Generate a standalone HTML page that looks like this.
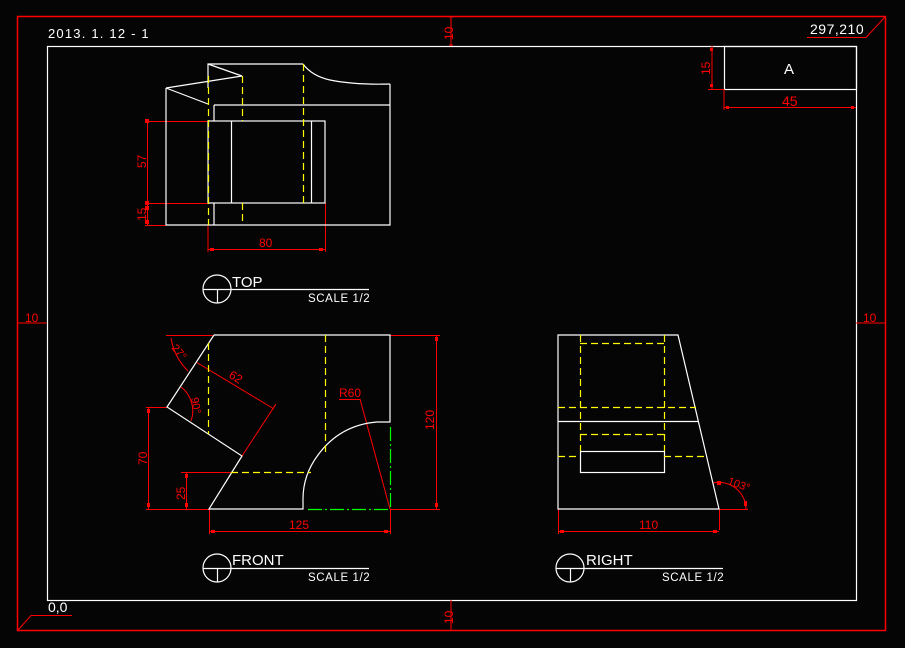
<!DOCTYPE html>
<html><head><meta charset="utf-8"><style>
html,body{margin:0;padding:0;background:#000;}
svg{display:block;}
text{font-family:"Liberation Sans","DejaVu Sans",sans-serif;}
</style></head><body>
<svg width="905" height="648" viewBox="0 0 905 648" xmlns="http://www.w3.org/2000/svg">
<rect width="905" height="648" fill="#050505"/>
<g fill="none" stroke-width="1.2">
<rect x="17.5" y="16.5" width="868" height="614" stroke="#f00" stroke-width="1.5"/>
<rect x="47.5" y="46.5" width="809" height="554" stroke="#fff"/>
<rect x="724.5" y="46.5" width="132" height="43" stroke="#fff"/>
</g>
<g stroke="#f00" stroke-width="1" fill="none">
<line x1="451" y1="16" x2="451" y2="46"/><line x1="449" y1="17" x2="453" y2="17"/><line x1="449" y1="45" x2="453" y2="45"/>
<line x1="451" y1="600" x2="451" y2="630"/>
<line x1="17" y1="323" x2="47" y2="323"/><line x1="856" y1="323" x2="885" y2="323"/>
<line x1="807" y1="37.5" x2="866" y2="37.5"/><line x1="866" y1="37.5" x2="885" y2="17"/>
<line x1="31" y1="615.5" x2="72" y2="615.5"/><line x1="31" y1="615.5" x2="18" y2="630"/>
<line x1="712" y1="46" x2="712" y2="89"/><line x1="708" y1="89.5" x2="724" y2="89.5"/>
<line x1="724" y1="107.5" x2="856" y2="107.5"/><line x1="724" y1="89" x2="724" y2="110"/>
<line x1="147.5" y1="121" x2="147.5" y2="225"/>
<line x1="145" y1="121.5" x2="208" y2="121.5"/>
<line x1="145" y1="203.5" x2="208" y2="203.5"/>
<line x1="145" y1="225.5" x2="166" y2="225.5"/>
<line x1="208" y1="225" x2="208" y2="252"/>
<line x1="325.5" y1="203" x2="325.5" y2="252"/>
<line x1="208" y1="249.5" x2="325" y2="249.5"/>
<line x1="166" y1="335.5" x2="214" y2="335.5"/>
<line x1="390" y1="335.5" x2="440" y2="335.5"/>
<line x1="436.5" y1="335" x2="436.5" y2="509"/>
<line x1="390" y1="509.5" x2="440" y2="509.5"/>
<line x1="146" y1="407.5" x2="167" y2="407.5"/>
<line x1="148.5" y1="407" x2="148.5" y2="509"/>
<line x1="146" y1="509.5" x2="209" y2="509.5"/>
<line x1="181" y1="472.5" x2="232" y2="472.5"/>
<line x1="186.5" y1="472" x2="186.5" y2="509"/>
<line x1="209.5" y1="509" x2="209.5" y2="534"/>
<line x1="390.5" y1="509" x2="390.5" y2="534"/>
<line x1="209" y1="531.5" x2="390" y2="531.5"/>
<line x1="196" y1="362" x2="274" y2="409"/>
<line x1="276" y1="404" x2="242" y2="456"/>
<line x1="339" y1="399.5" x2="360" y2="399.5"/>
<line x1="360" y1="399" x2="390" y2="509"/>
<path d="M171 338 A60 60 0 0 0 188 371"/>
<path d="M181 387 A30 30 0 0 1 191 421"/>
<line x1="558.5" y1="509" x2="558.5" y2="534"/>
<line x1="719.5" y1="509" x2="719.5" y2="530"/>
<line x1="558" y1="531.5" x2="719" y2="531.5"/>
<line x1="719" y1="509.5" x2="748" y2="509.5"/>
<path d="M713 483 A27 27 0 0 1 746 509"/>
</g>
<g fill="#f00">
<rect x="145" y="119" width="4" height="4"/><rect x="145" y="201" width="4" height="4"/><rect x="145" y="206" width="4" height="4"/><rect x="145" y="220" width="4" height="4"/>
<rect x="210" y="248" width="4" height="3"/><rect x="319" y="248" width="4" height="3"/>
<rect x="435" y="337" width="3" height="4"/><rect x="435" y="503" width="3" height="4"/>
<rect x="147" y="409" width="3" height="4"/><rect x="147" y="503" width="3" height="4"/>
<rect x="185" y="474" width="3" height="4"/><rect x="185" y="503" width="3" height="4"/>
<rect x="211" y="530" width="4" height="3"/><rect x="384" y="530" width="4" height="3"/>
<rect x="560" y="530" width="4" height="3"/><rect x="713" y="530" width="4" height="3"/>
<rect x="717" y="481" width="4" height="4"/><rect x="744" y="501" width="3" height="5"/>
<rect x="710" y="48" width="3" height="3"/><rect x="710" y="84" width="3" height="3"/>
<rect x="726" y="106" width="3" height="3"/><rect x="851" y="106" width="3" height="3"/>
</g>
<g fill="none" stroke="#fff" stroke-width="1.2">
<path d="M166 88 V225 H390 V84"/>
<path d="M208 88 V64 H303"/>
<path d="M303 64 Q312 76 330 80 Q355 85 390 84"/>
<path d="M208 64 L242 76"/>
<path d="M166 88 L242 76"/>
<path d="M166 88 L208 104"/>
<path d="M214 105 H390"/><path d="M214 105 V121"/><path d="M214 203 V225"/>
<rect x="208" y="121" width="117" height="82"/>
<line x1="231.5" y1="121" x2="231.5" y2="203"/>
<line x1="311.5" y1="121" x2="311.5" y2="203"/>
<circle cx="217" cy="289" r="14"/>
<line x1="203" y1="289.5" x2="369" y2="289.5"/><line x1="217.5" y1="289" x2="217.5" y2="303"/>
<path d="M214 335 H390 V422 H377 Q340 425 318 455 Q303 475 303 499 V509 H209 L242 456 L167 407 L214 335"/>
<circle cx="217" cy="568" r="14"/>
<line x1="203" y1="568.5" x2="369" y2="568.5"/><line x1="217.5" y1="568" x2="217.5" y2="582"/>
<path d="M558 335 H678 L719 509 H558 Z"/>
<line x1="558" y1="421.5" x2="698" y2="421.5"/>
<rect x="580.5" y="451.5" width="84" height="21"/>
<circle cx="570" cy="568" r="14"/>
<line x1="556" y1="568.5" x2="723" y2="568.5"/><line x1="570.5" y1="568" x2="570.5" y2="582"/>
</g>
<g fill="none" stroke="#ff0" stroke-width="1.2" stroke-dasharray="7,4">
<line x1="208.5" y1="76" x2="208.5" y2="225"/>
<line x1="242.5" y1="76" x2="242.5" y2="121"/>
<line x1="242.5" y1="203" x2="242.5" y2="225"/>
<line x1="303.5" y1="64" x2="303.5" y2="203"/>
<line x1="208.5" y1="343" x2="208.5" y2="434"/>
<line x1="325.5" y1="335" x2="325.5" y2="453"/>
<line x1="231" y1="472.5" x2="311" y2="472.5"/>
<line x1="580.5" y1="335" x2="580.5" y2="451"/>
<line x1="664.5" y1="335" x2="664.5" y2="451"/>
<line x1="580" y1="343.5" x2="664" y2="343.5"/>
<line x1="558" y1="407.5" x2="696" y2="407.5"/>
<line x1="580" y1="434.5" x2="664" y2="434.5"/>
<line x1="558" y1="456.5" x2="580" y2="456.5"/>
<line x1="664" y1="456.5" x2="707" y2="456.5"/>
</g>
<g fill="none" stroke="#0f0" stroke-width="1.2" stroke-dasharray="14,3,2,3">
<line x1="390.5" y1="427" x2="390.5" y2="509"/>
<line x1="308" y1="509.5" x2="390" y2="509.5"/>
</g>
<g fill="#fff" font-size="13">
<text x="48" y="38" letter-spacing="1.2">2013. 1. 12 - 1</text>
<text x="810" y="34" font-size="14" letter-spacing="0.5">297,210</text>
<text x="48" y="612" font-size="14">0,0</text>
<text x="784" y="74" font-size="15">A</text>
<text x="232" y="287" font-size="15">TOP</text>
<text x="308" y="302" font-size="11.5" letter-spacing="0.6">SCALE 1/2</text>
<text x="232" y="565" font-size="15">FRONT</text>
<text x="308" y="581" font-size="11.5" letter-spacing="0.6">SCALE 1/2</text>
<text x="586" y="565" font-size="15">RIGHT</text>
<text x="662" y="581" font-size="11.5" letter-spacing="0.6">SCALE 1/2</text>
</g>
<g fill="#f00" font-size="12">
<text x="782" y="106" font-size="14">45</text>
<text transform="translate(710,75) rotate(-90)">15</text>
<text transform="translate(453,40) rotate(-90)">10</text>
<text transform="translate(453,624) rotate(-90)">10</text>
<text x="25" y="322">10</text>
<text x="863" y="322">10</text>
<text transform="translate(146,168) rotate(-90)">57</text>
<text transform="translate(146,221) rotate(-90)">15</text>
<text x="259" y="247">80</text>
<text transform="translate(147,465) rotate(-90)">70</text>
<text transform="translate(185,500) rotate(-90)">25</text>
<text transform="translate(434,430) rotate(-90)">120</text>
<text x="289" y="529">125</text>
<text x="639" y="529">110</text>
<text x="339" y="397">R60</text>
<text transform="translate(228,377) rotate(32)">62</text>
<text transform="translate(171,348) rotate(50)" font-size="11">27°</text>
<text transform="translate(191,398) rotate(80)" font-size="11">90°</text>
<text transform="translate(727,484) rotate(20)" font-size="11">103°</text>
</g>
</svg>
</body></html>
